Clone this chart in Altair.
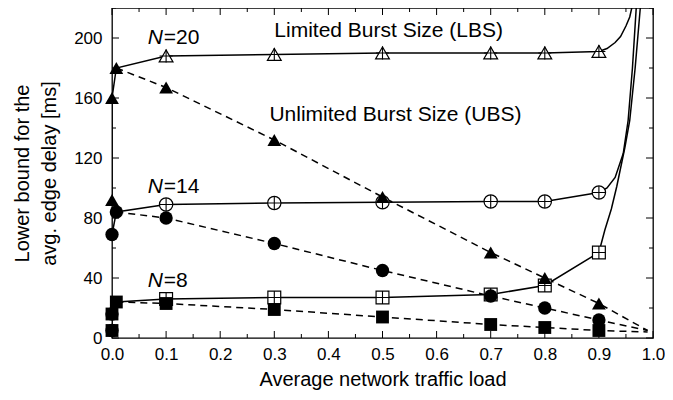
import altair as alt
import pandas as pd

# ---------------- data ----------------
series = ["N=20", "N=14", "N=8"]

# points very close to zero load (filled markers)
start_x = {"N=20": [0.0, 0.0, 0.008], "N=14": [0.0, 0.008], "N=8": [0.0, 0.0, 0.008]}
start_y = {"N=20": [92, 160, 180], "N=14": [69, 84], "N=8": [5, 16, 24]}

# Limited Burst Size (solid, open markers)
x_pts = [0.1, 0.3, 0.5, 0.7, 0.8, 0.9]
lbs_y = {"N=20": [188, 189, 190, 190, 190, 191],
         "N=14": [89, 90, 90.5, 91, 91, 97],
         "N=8": [26, 27, 27, 29, 35, 57]}
tail_x = {"N=20": [0.915, 0.93, 0.94, 0.95, 0.957, 0.962, 0.968],
          "N=14": [0.915, 0.93, 0.945, 0.954, 0.962, 0.969, 0.975],
          "N=8": [0.911, 0.923, 0.933, 0.948, 0.957, 0.967, 0.9765, 0.983]}
tail_y = {"N=20": [193, 197, 201, 208, 214, 222, 250],
          "N=14": [100, 107, 123, 145, 180, 220, 260],
          "N=8": [72, 86, 101, 127, 145, 180, 220, 260]}

# Unlimited Burst Size (dashed, filled markers)
ubs_y = {"N=20": [167, 132, 94, 57, 40, 23],
         "N=14": [80, 63, 45, 28, 20, 12],
         "N=8": [23, 19, 14, 9, 7, 5]}
end_x = 0.99
end_y = {"N=20": 5, "N=14": 5, "N=8": 4}

# tick values
x_major = [0.0, 0.1, 0.2, 0.3, 0.4, 0.5, 0.6, 0.7, 0.8, 0.9, 1.0]
x_minor = [0.05, 0.15, 0.25, 0.35, 0.45, 0.55, 0.65, 0.75, 0.85, 0.95]
y_major = [0, 40, 80, 120, 160, 200]
y_minor = [20, 60, 100, 140, 180, 220]

# annotations
n_label_x = 0.094
n_label_y = [200, 101, 38]
n_label_rest = ["=20", "=14", "=8"]
big_labels = ["Limited Burst Size (LBS)", "Unlimited Burst Size (UBS)"]
big_x = [0.300, 0.291]
big_y = [204.5, 148.5]

# ---------------- tables ----------------
W, H = 541, 330
FONT = "Liberation Sans"

lbs_rows, ubs_rows, fill_rows, open_rows = [], [], [], []
for s in series:
    xs = start_x[s] + x_pts + tail_x[s]
    ys = start_y[s] + lbs_y[s] + tail_y[s]
    for i, (a, b) in enumerate(zip(xs, ys)):
        lbs_rows.append({"s": s, "o": i, "x": a, "y": b})
    uxs = [start_x[s][-1]] + x_pts + [end_x]
    uys = [start_y[s][-1]] + ubs_y[s] + [end_y[s]]
    for i, (a, b) in enumerate(zip(uxs, uys)):
        ubs_rows.append({"s": s, "o": i, "x": a, "y": b})
    for a, b in zip(start_x[s], start_y[s]):
        fill_rows.append({"s": s, "x": a, "y": b})
    for a, b in zip(x_pts, ubs_y[s]):
        fill_rows.append({"s": s, "x": a, "y": b})
    for a, b in zip(x_pts, lbs_y[s]):
        open_rows.append({"s": s, "x": a, "y": b})
# overlapping circle at the lowest start points
fill_rows.append({"s": "N=14", "x": 0.0, "y": 5})
fill_rows.append({"s": "N=14", "x": 0.0, "y": 16})

lbs = pd.DataFrame(lbs_rows)
ubs = pd.DataFrame(ubs_rows)
filled = pd.DataFrame(fill_rows)
opened = pd.DataFrame(open_rows)

xs_ = alt.Scale(domain=[0, 1], nice=False, zero=False)
ys_ = alt.Scale(domain=[0, 220], nice=False, zero=False)
shape_scale = alt.Scale(domain=series, range=["triangle-up", "circle", "square"])
size_scale = alt.Scale(domain=series, range=[190, 165, 125])

X_TITLE = "Average network traffic load"
Y_TITLE = ["Lower bound for the", "avg. edge delay [ms]"]
x_axis = alt.Axis(values=x_major, format=".1f", labelPadding=8, titlePadding=7, labelFlush=False)
y_axis = alt.Axis(values=y_major, labelPadding=10, titlePadding=14, labelFlush=False)

X = lambda f="x": alt.X(f"{f}:Q", scale=xs_, axis=x_axis, title=X_TITLE)
Y = lambda f="y": alt.Y(f"{f}:Q", scale=ys_, axis=y_axis, title=Y_TITLE)

# inward ticks
def xticks(vals, length):
    d = pd.DataFrame({"v": vals})
    bottom = alt.Chart(d).mark_rule(color="black", strokeWidth=1).encode(
        x=X("v"), y=alt.value(H), y2=alt.value(H - length))
    top = alt.Chart(d).mark_rule(color="black", strokeWidth=1).encode(
        x=X("v"), y=alt.value(0), y2=alt.value(length))
    return [bottom, top]

def yticks(vals, length):
    d = pd.DataFrame({"v": vals})
    left = alt.Chart(d).mark_rule(color="black", strokeWidth=1).encode(
        y=Y("v"), x=alt.value(0), x2=alt.value(length))
    right = alt.Chart(d).mark_rule(color="black", strokeWidth=1).encode(
        y=Y("v"), x=alt.value(W), x2=alt.value(W - length))
    return [left, right]

ticks = xticks(x_major, 7) + xticks(x_minor, 4) + yticks(y_major, 7) + yticks(y_minor, 4)

lbs_line = alt.Chart(lbs).mark_line(color="black", strokeWidth=1.5, clip=True).encode(
    x=X(), y=Y(), detail="s:N", order="o:Q")
ubs_line = alt.Chart(ubs).mark_line(color="black", strokeWidth=1.5, strokeDash=[7, 5], clip=True).encode(
    x=X(), y=Y(), detail="s:N", order="o:Q")

filled_pts = alt.Chart(filled).mark_point(filled=True, color="black", opacity=1).encode(
    x=X(), y=Y(), shape=alt.Shape("s:N", scale=shape_scale, legend=None),
    size=alt.Size("s:N", scale=size_scale, legend=None))
open_pts = alt.Chart(opened).mark_point(filled=False, fill="white", fillOpacity=1, color="black",
                                        strokeWidth=1.2, opacity=1).encode(
    x=X(), y=Y(), shape=alt.Shape("s:N", scale=shape_scale, legend=None),
    size=alt.Size("s:N", scale=size_scale, legend=None))
cross_pts = alt.Chart(opened).mark_point(filled=False, color="black", strokeWidth=1.1, size=170,
                                         opacity=1, shape="M-1,0H1M0,-1V1").encode(x=X(), y=Y())

ndf = pd.DataFrame({"x": [n_label_x] * 3, "y": n_label_y, "n": ["N"] * 3, "rest": n_label_rest})
n_text = alt.Chart(ndf).mark_text(font=FONT, fontSize=21, fontStyle="italic", align="right",
                                  baseline="middle", color="black").encode(x=X(), y=Y(), text="n:N")
rest_text = alt.Chart(ndf).mark_text(font=FONT, fontSize=21, align="left", dx=1,
                                     baseline="middle", color="black").encode(x=X(), y=Y(), text="rest:N")
bdf = pd.DataFrame({"x": big_x, "y": big_y, "t": big_labels})
big_text = alt.Chart(bdf).mark_text(font=FONT, fontSize=21, align="left", baseline="middle",
                                    color="black").encode(x=X(), y=Y(), text="t:N")

chart = alt.layer(*ticks, lbs_line, ubs_line, open_pts, cross_pts, filled_pts,
                  n_text, rest_text, big_text).properties(
    width=W, height=H,
    autosize=alt.AutoSizeParams(type="none"),
    padding={"left": 104, "top": 0, "right": 12, "bottom": 54},
).configure_view(stroke="black", strokeWidth=1.3).configure_axis(
    domain=False, ticks=False, grid=False,
    labelFont=FONT, labelFontSize=17, labelColor="black",
    titleFont=FONT, titleFontSize=20, titleFontWeight="normal", titleColor="black",
    titleLineHeight=27,
)

chart.save("out.html", embed_options={"renderer": "svg", "actions": False})
